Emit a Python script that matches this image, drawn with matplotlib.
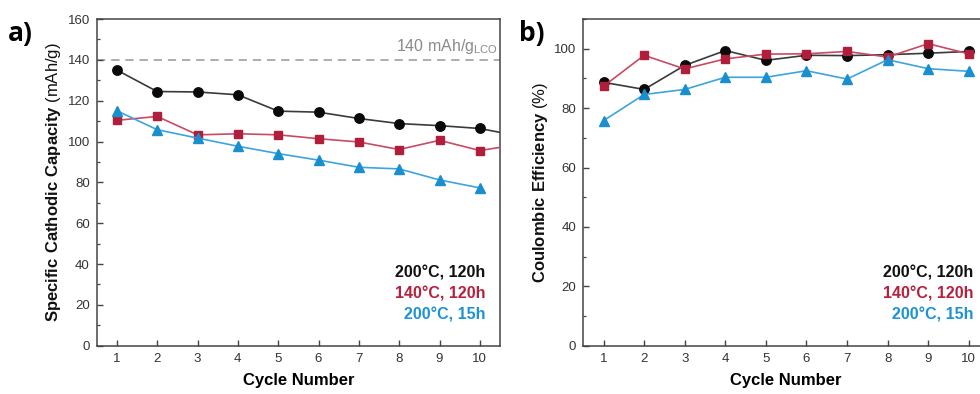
import matplotlib
matplotlib.use("Agg")
import matplotlib.pyplot as plt
from matplotlib.ticker import MultipleLocator

plt.rcParams["font.family"] = ["Liberation Sans", "DejaVu Sans"]
plt.rcParams["mathtext.fontset"] = "custom"
plt.rcParams["mathtext.rm"] = "Liberation Sans"
plt.rcParams["mathtext.bf"] = "Liberation Sans:bold"

# Data
cycles = [1, 2, 3, 4, 5, 6, 7, 8, 9, 10, 11]
labels = ["200°C, 120h", "140°C, 120h", "200°C, 15h"]

# capacity (mAh/g); the 11th cycle is cut off by the axis edge
cap_200_120 = [135.0, 124.5, 124.3, 122.9, 114.9, 114.4, 111.3, 108.8, 107.8, 106.4, 102.6]
cap_140_120 = [110.4, 112.3, 103.3, 103.8, 103.3, 101.4, 99.8, 96.1, 100.6, 95.6, 98.7]
cap_200_15 = [115.1, 105.8, 101.7, 97.7, 94.1, 90.9, 87.4, 86.6, 81.2, 77.3, None]

# coulombic efficiency (%)
ce_200_120 = [88.7, 86.3, 94.4, 99.4, 96.1, 97.8, 97.7, 98.0, 98.5, 99.1]
ce_140_120 = [87.4, 97.8, 93.2, 96.6, 98.2, 98.3, 99.1, 97.2, 101.7, 98.3]
ce_200_15 = [75.8, 84.6, 86.3, 90.4, 90.4, 92.6, 89.8, 96.3, 93.3, 92.4]

ref_capacity = 140

text_cols = ["#111111", "#b5213f", "#1c93d4"]
line_cols = ["#3a3a3a", "#c94a63", "#3ea4dd"]
marker_cols = ["#0a0a0a", "#b01e3b", "#1a8fd0"]
markers = ["o", "s", "^"]
msizes = [6.8, 6.0, 7.2]

fig = plt.figure(figsize=(9.8, 3.94), dpi=100)
ax1 = fig.add_axes([0.0987, 0.1226, 0.4115, 0.829])
ax2 = fig.add_axes([0.5952, 0.1226, 0.414, 0.829])


def style_axis(ax, ymax, ymajor, yminor):
    ax.set_xlim(0.5, 10.5)
    ax.set_ylim(0, ymax)
    ax.set_xticks(range(1, 11))
    ax.yaxis.set_major_locator(MultipleLocator(ymajor))
    ax.yaxis.set_minor_locator(MultipleLocator(yminor))
    ax.tick_params(axis="both", which="both", direction="in", colors="#444444",
                   labelcolor="#333333", labelsize=9.5)
    ax.tick_params(axis="both", which="major", length=4, width=1.0, pad=5)
    ax.tick_params(axis="y", which="minor", length=2.5, width=0.9)
    ax.tick_params(top=False, right=False)
    for s in ax.spines.values():
        s.set_color("#444444")
        s.set_linewidth(1.1)
    ax.set_xlabel("Cycle Number", fontsize=12, fontweight="bold", labelpad=6)


def draw_series(ax, series, x):
    for i, ys in enumerate(series):
        xs = [c for c, v in zip(x, ys) if v is not None]
        vs = [v for v in ys if v is not None]
        ax.plot(xs, vs, color=line_cols[i], lw=1.2, marker=markers[i],
                ms=msizes[i], mfc=marker_cols[i], mec=marker_cols[i], zorder=3)


def draw_legend(ax, x, y0):
    for i, lab in enumerate(labels):
        ax.text(x, y0 - i * 0.0637, lab, transform=ax.transAxes, ha="right", va="center",
                color=text_cols[i], fontsize=11.5, fontweight="bold")


# panel a
style_axis(ax1, 160, 20, 10)
draw_series(ax1, [cap_200_120, cap_140_120, cap_200_15], cycles)
ax1.axhline(ref_capacity, color="#a0a0a0", lw=1.2, ls=(0, (5, 3.5)), zorder=1)
ax1.text(10.45, ref_capacity + 2.0, r"140 mAh/g$_{\mathrm{LCO}}$", ha="right", va="bottom",
         color="#8a8a8a", fontsize=11.5)
ax1.set_ylabel(r"$\mathbf{Specific\ Cathodic\ Capacity}$ (mAh/g)", fontsize=12,
               color="#111111", labelpad=3)
draw_legend(ax1, 0.963, 0.223)

# panel b
style_axis(ax2, 110, 20, 10)
draw_series(ax2, [ce_200_120, ce_140_120, ce_200_15], cycles[:10])
ax2.set_ylabel(r"$\mathbf{Coulombic\ Efficiency}$ (%)", fontsize=12,
               color="#111111", labelpad=3)
draw_legend(ax2, 0.9606, 0.223)

fig.text(0.008, 0.895, "a)", fontsize=19, fontweight="bold", family="Open Sans")
fig.text(0.530, 0.895, "b)", fontsize=19, fontweight="bold", family="Open Sans")

fig.savefig("out.png", dpi=100)
